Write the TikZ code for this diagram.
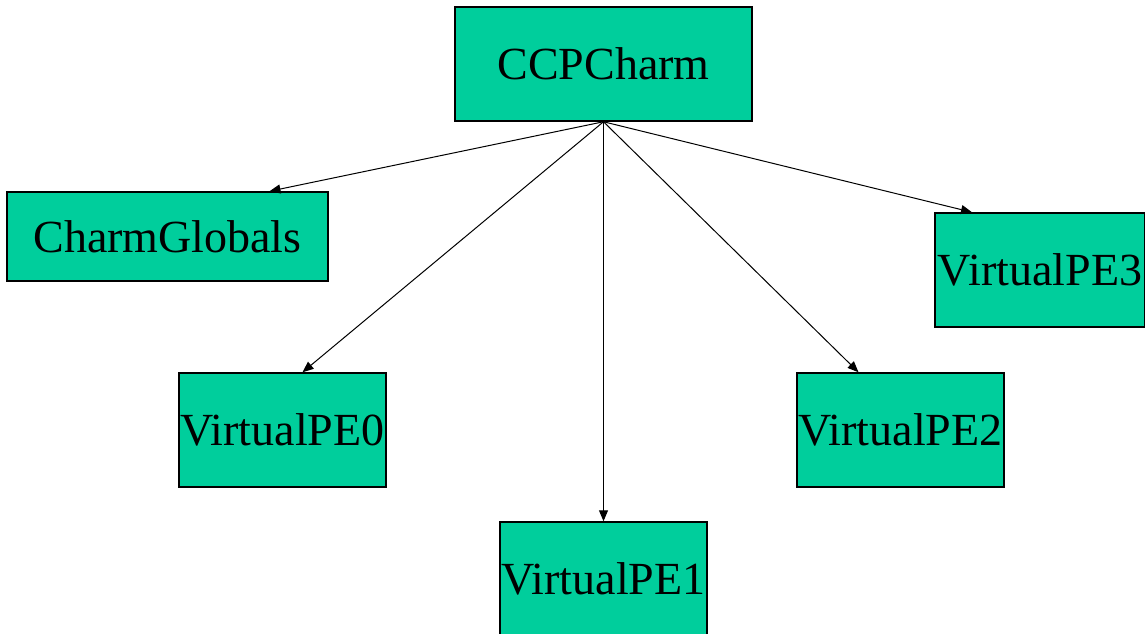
\documentclass[tikz,border=0pt]{standalone}
\usepackage{fontspec}
\setmainfont{Liberation Serif}
\usetikzlibrary{arrows.meta}
\definecolor{boxgreen}{RGB}{0,206,156}
\begin{document}
\begin{tikzpicture}[x=1pt,y=-1pt,
  cls/.style={draw=black, line width=1.5pt, fill=boxgreen, inner sep=0pt,
    font=\fontsize{46}{50}\selectfont},
  pebox/.style={cls, minimum width=207pt, minimum height=114pt},
  link/.style={line width=1pt, -{Triangle[length=11pt,width=9pt]}}]
\clip (0,0) rectangle (1145,633);
\fill[white] (0,0) rectangle (1145,633);
% class boxes
\node[cls, minimum width=297pt, minimum height=114pt] (ccp) at (603.5,64) {CCPCharm};
\node[cls, minimum width=321pt, minimum height=89pt] (glob) at (167.5,236.5) {CharmGlobals};
\node[pebox] (pe0) at (282.5,430) {VirtualPE0};
\node[pebox] (pe1) at (603.5,579) {VirtualPE1};
\node[pebox] (pe2) at (900.5,430) {VirtualPE2};
\node[pebox, minimum width=210pt] (pe3) at (1040,270) {VirtualPE3};
% connectors
\draw[link] (ccp.south) -- ([xshift=102pt]glob.north);
\draw[link] (ccp.south) -- ([xshift=20pt]pe0.north);
\draw[link] (ccp.south) -- (pe1.north);
\draw[link] (ccp.south) -- ([xshift=-42pt]pe2.north);
\draw[link] (ccp.south) -- ([xshift=-68pt]pe3.north);
\end{tikzpicture}
\end{document}
